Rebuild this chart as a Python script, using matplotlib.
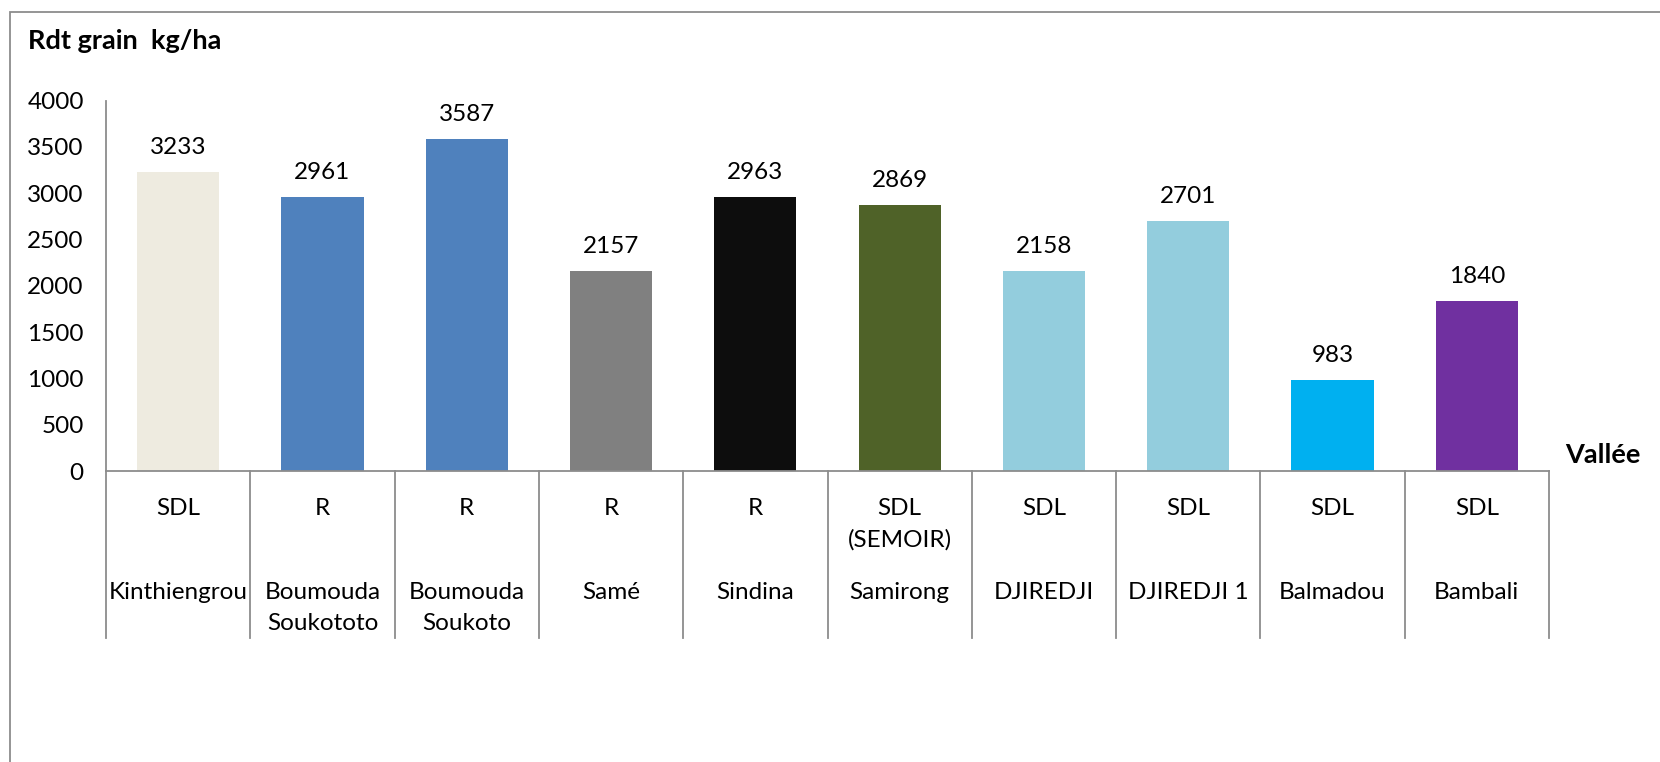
import matplotlib
matplotlib.use("Agg")
import matplotlib.pyplot as plt
from matplotlib.lines import Line2D
from matplotlib.patches import Rectangle

plt.rcParams["font.family"] = ["Lato", "DejaVu Sans"]
plt.rcParams["font.size"] = 17.5

# Grain yield per site (kg/ha)
sites = ["Kinthiengrou", "Boumouda\nSoukototo", "Boumouda\nSoukoto", "Samé", "Sindina",
         "Samirong", "DJIREDJI", "DJIREDJI 1", "Balmadou", "Bambali"]
systems = ["SDL", "R", "R", "R", "R", "SDL\n(SEMOIR)", "SDL", "SDL", "SDL", "SDL"]
yields = [3233, 2961, 3587, 2157, 2963, 2869, 2158, 2701, 983, 1840]
bar_colors = ["#EEEBE0", "#4F81BD", "#4F81BD", "#808080", "#0D0D0D",
              "#4F6228", "#93CDDD", "#93CDDD", "#00B0F0", "#7030A0"]
y_ticks = [0, 500, 1000, 1500, 2000, 2500, 3000, 3500, 4000]

W, H, DPI = 1660, 762, 100
fig = plt.figure(figsize=(W / DPI, H / DPI), dpi=DPI)

# plot area in pixel terms
x0, x1 = 106, 1549
y_top, y_base = 100.6, 471
ax = fig.add_axes([x0 / W, (H - y_base) / H, (x1 - x0) / W, (y_base - y_top) / H])

n = len(sites)
xs = list(range(n))
ax.bar(xs, yields, width=0.57, color=bar_colors, zorder=2)

for x, v in zip(xs, yields):
    ax.annotate(f"{v}", (x, v), xytext=(0, 13), textcoords="offset points",
                ha="center", va="baseline", fontsize=17.5)

ax.set_xlim(-0.5, n - 0.5)
ax.set_ylim(0, 4000)
ax.set_yticks(y_ticks)
ax.set_xticks([])
ax.tick_params(axis="y", length=0, pad=16, labelsize=17.5)

axis_grey = "#8C8C8C"
for side in ["top", "right"]:
    ax.spines[side].set_visible(False)
for side in ["left", "bottom"]:
    ax.spines[side].set_color(axis_grey)
    ax.spines[side].set_linewidth(1.3)

# category separators running down through the label table
ax_h = y_base - y_top
tick_depth = (638 - y_base) / ax_h
trans = ax.get_xaxis_transform()
for k in range(n + 1):
    ax.add_line(Line2D([k - 0.5, k - 0.5], [0, -tick_depth], transform=trans,
                       color=axis_grey, lw=1.3, clip_on=False))

sys_top = -(498 - y_base) / ax_h
site_top = -(582 - y_base) / ax_h
for x, s, name in zip(xs, systems, sites):
    ax.text(x, sys_top, s, transform=trans, ha="center", va="top",
            linespacing=1.6, fontsize=17.5)
    ax.text(x, site_top, name, transform=trans, ha="center", va="top",
            linespacing=1.6, fontsize=17.5)

fig.text(28 / W, 1 - 49 / H, "Rdt grain  kg/ha", ha="left", va="baseline",
         fontsize=19.5, fontweight="bold")
fig.text(1565 / W, 1 - 463 / H, "Vallée", ha="left", va="baseline",
         fontsize=19.5, fontweight="bold")

# outer chart frame
fig.patches.append(Rectangle((10 / W, -0.1), 1.2, 1.1 - 12 / H, transform=fig.transFigure,
                             fill=False, edgecolor=axis_grey, lw=1.3))

fig.savefig("out.png", dpi=DPI)
